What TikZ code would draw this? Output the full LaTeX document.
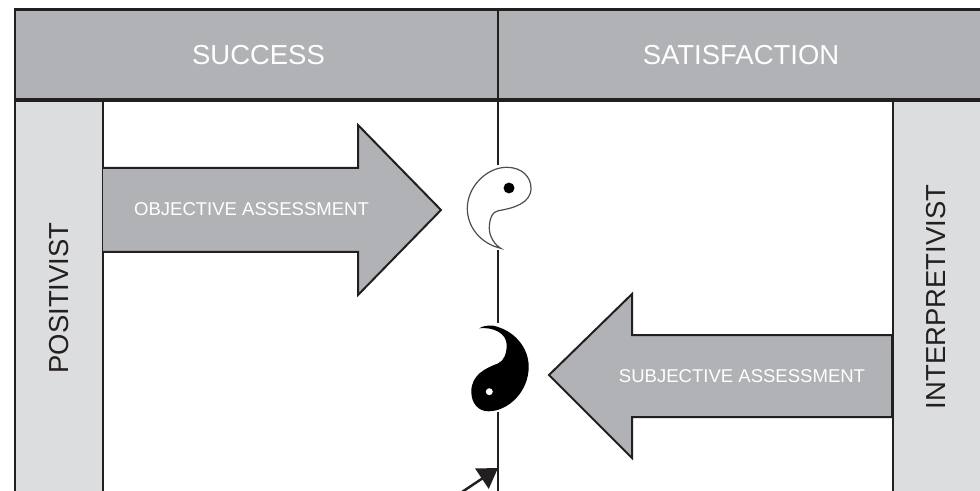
\documentclass[tikz,border=0pt]{standalone}
\usepackage{fontspec}
\setmainfont{Liberation Sans}
\usepackage{xcolor}
\usetikzlibrary{arrows.meta}
\definecolor{bandgray}{HTML}{B1B2B5}
\definecolor{colgray}{HTML}{DCDDDE}
\definecolor{inkblack}{HTML}{231F20}
\tikzset{
  headcell/.style={draw=inkblack,fill=bandgray,line width=1.5pt,inner sep=0pt,minimum height=66.75pt},
  headlabel/.style={text=white,inner sep=0pt,font=\fontsize{20.6}{24}\selectfont},
  sidecol/.style={draw=inkblack,fill=colgray,line width=1.6pt},
  sidelabel/.style={text=inkblack,rotate=90,inner sep=0pt,font=\fontsize{20.6}{24}\selectfont},
  bigarrow/.style={draw=inkblack,fill=bandgray,line width=1.5pt,miter limit=10},
  arrowlabel/.style={text=white,inner sep=0pt,font=\fontsize{13.9}{16}\selectfont},
  midline/.style={draw=inkblack,line width=1.5pt},
  symbolgap/.style={fill=white,draw=none,inner sep=0pt}
}
\begin{document}
\begin{tikzpicture}[x=0.75pt,y=-0.75pt]
  \useasboundingbox (0,0) rectangle (980,491);
  \clip (0,0) rectangle (980,491);
  % side columns
  \draw[sidecol] (15,99) rectangle (103,500);
  \draw[sidecol] (893,99) rectangle (990,500);
  % centre line
  \coordinate (midtop) at (498,99);
  \coordinate (midend) at (498,500);
  \coordinate (midhit) at (498,468);
  \draw[midline] (midtop) -- (midend);
  % header
  \node[headcell,minimum width=362.25pt] (success) at (256.5,54.5) {};
  \node[headcell,minimum width=362.25pt] (satisf) at (739.5,54.5) {};
  \draw[draw=inkblack,line width=2pt] (success.north west) -- (satisf.north east);
  \draw[draw=inkblack,line width=2.7pt] (success.south west) -- (satisf.south east);
  \node[headlabel] (successtxt) at (258.5,55) {SUCCESS};
  \node[headlabel] (satisftxt) at (741,55) {SATISFACTION};
  \node[sidelabel] (positivist) at (59,298) {POSITIVIST};
  \node[sidelabel] (interpret) at (936,297) {INTERPRETIVIST};
  % block arrows
  \draw[bigarrow] (103,168) -- (358,168) -- (358,125) -- (441,210) -- (358,295) -- (358,252) -- (103,252);
  \draw[bigarrow] (892,335) -- (632,335) -- (632,294) -- (549,375) -- (632,458) -- (632,417) -- (892,417) -- cycle;
  \node[arrowlabel] (objective) at (251.5,209) {OBJECTIVE ASSESSMENT};
  \node[arrowlabel] (subjective) at (742,376) {SUBJECTIVE ASSESSMENT};
  % white half
  \node[symbolgap,minimum width=51pt,minimum height=63.75pt] (whitegap) at (499,207.5) {};
  \draw[draw=inkblack!80,fill=white,line width=0.9pt]
    (500.7,248.3) .. controls (480,243.3) and (467.3,226.7) .. (467.3,208.3)
    .. controls (467.3,186.7) and (486.7,167.3) .. (506.7,167.3)
    .. controls (521.7,167.3) and (531,176.7) .. (531,188.3)
    .. controls (531,203.3) and (513.3,208.3) .. (498.3,210.7)
    .. controls (491.7,211.7) and (489.3,220) .. (489.3,228.3)
    .. controls (489.3,236.7) and (495,245) .. (500.7,248.3) -- cycle;
  \node[circle,fill=black,inner sep=0pt,minimum size=8.2pt] (whitedot) at (509,188) {};
  % black half
  \node[symbolgap,minimum width=46.5pt,minimum height=66.75pt] (blackgap) at (499,367.5) {};
  \fill[black]
    (479.3,328.3) .. controls (483.3,325.7) and (488.3,325.3) .. (493.3,325.7)
    .. controls (513.3,330) and (528.7,346.7) .. (528.7,366.7)
    .. controls (528.7,391.7) and (508.3,411.3) .. (488.3,411.3)
    .. controls (478.3,411.3) and (471.3,403.3) .. (471.3,391.7)
    .. controls (471.3,375) and (485,368.3) .. (498.3,363.3)
    .. controls (504,360.7) and (506.7,353.3) .. (506.7,345)
    .. controls (506.7,333.3) and (493.3,326.7) .. (479.3,328.3) -- cycle;
  \node[circle,fill=white,inner sep=0pt,minimum size=5.2pt] (blackdot) at (489.3,391.7) {};
  % small arrow at the bottom
  \coordinate (pointfrom) at (456,496);
  \draw[-{Triangle[length=14.5pt,width=18pt]},draw=inkblack,fill=inkblack,line width=1.8pt] (pointfrom) -- (midhit);
\end{tikzpicture}
\end{document}
